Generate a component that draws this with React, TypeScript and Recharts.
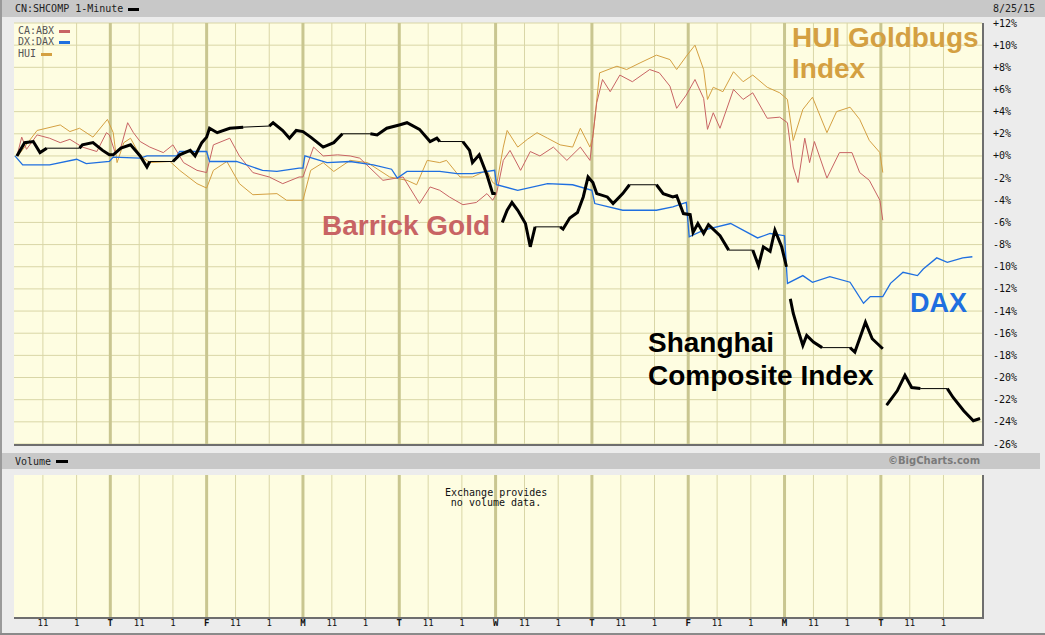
import React from 'react';
import { LineChart, Line, XAxis, YAxis, CartesianGrid } from 'recharts';

// x is measured in trading days from the left edge (8/12 open = 0)
const X_MAX = 10.05;
const yTicks = [12, 10, 8, 6, 4, 2, 0, -2, -4, -6, -8, -10, -12, -14, -16, -18, -20, -22, -24, -26];
const dayLetters = ['T', 'F', 'M', 'T', 'W', 'T', 'F', 'M', 'T'];
const hourOffsets = [0.3, 0.65];
const hourLabels = ['11', '1'];

const abx: [number, number][] = [
  [0.04, 0.3], [0.08, 1.7], [0.13, 0.6], [0.24, 1.9], [0.37, 1.6], [0.48, 1.2], [0.58, 1.5], [0.71, 0.8],
  [0.86, 0.4], [0.96, 2.1], [0.99, 1.9], [1.05, 0.3], [1.11, 0.8], [1.18, 3.0], [1.24, 2.1], [1.31, 1.3],
  [1.41, 0.8], [1.55, 0.3], [1.65, 1.0], [1.76, -0.6], [1.9, -1.3], [2.0, -1.5], [2.07, 1.0], [2.24, 1.6],
  [2.34, 0], [2.48, -1.5], [2.65, -1.9], [2.79, -2.5], [2.96, -1.9], [3.0, -1.9], [3.11, 0.8], [3.21, 0],
  [3.36, 0.1], [3.49, 0], [3.59, -0.2], [3.83, -2.2], [4.04, -1.9], [4.21, -4.3], [4.32, -2.8], [4.42, -3.1],
  [4.52, -3.7], [4.66, -4.4], [4.8, -4.2], [4.91, -3.4], [4.97, -4.0], [5.01, -3.4], [5.08, -0.4], [5.15, 0.5],
  [5.26, -1.3], [5.36, 0.4], [5.46, 0], [5.6, 0.8], [5.74, -0.4], [5.88, 0.8], [5.98, -0.4], [6.05, 4.8],
  [6.11, 6.9], [6.19, 5.8], [6.29, 7.3], [6.42, 6.7], [6.6, 7.8], [6.7, 7.5], [6.81, 6.3], [6.88, 4.3],
  [6.98, 5.5], [7.07, 6.9], [7.16, 5.2], [7.2, 2.4], [7.26, 3.9], [7.33, 2.5], [7.47, 6.0], [7.57, 5.1],
  [7.67, 5.7], [7.82, 3.4], [7.95, 3.5], [8.03, 3.0], [8.09, -1.0], [8.14, -2.4], [8.21, 1.6], [8.26, -0.6],
  [8.31, 1.3], [8.44, -2.0], [8.57, 0.3], [8.7, 0.3], [8.78, -1.5], [8.88, -2.2], [8.99, -4.0], [9.02, -5.8],
];

const dax: [number, number][] = [
  [0.01, 0], [0.09, -0.8], [0.37, -0.8], [0.65, -0.3], [0.75, -0.7], [0.99, -0.5], [1.03, -0.1], [1.31, -0.2],
  [1.38, 0], [1.69, 0], [1.72, 0.4], [1.96, 0.4], [2.0, 0.4], [2.03, -0.5], [2.31, -0.5], [2.58, -1.3],
  [2.73, -1.4], [2.96, -1.1], [3.0, -1.1], [3.02, 0], [3.25, -0.6], [3.49, -0.5], [3.73, -0.8], [3.92, -1.2],
  [3.98, -2.0], [4.08, -1.4], [4.42, -1.4], [4.6, -1.6], [4.76, -1.6], [4.99, -1.3], [5.01, -2.6], [5.23, -3.1],
  [5.54, -2.5], [5.8, -2.6], [6.0, -3.1], [6.03, -4.3], [6.32, -4.9], [6.67, -4.9], [6.84, -4.6], [6.98, -4.2],
  [7.01, -7.3], [7.16, -6.7], [7.44, -6.1], [7.72, -7.4], [7.85, -7.0], [8.0, -7.2], [8.03, -11.5], [8.19, -10.8],
  [8.29, -11.4], [8.47, -10.9], [8.68, -11.4], [8.82, -13.3], [8.89, -12.7], [9.02, -12.7], [9.1, -11.5], [9.23, -10.5],
  [9.38, -10.8], [9.44, -10.2], [9.58, -9.2], [9.69, -9.6], [9.85, -9.2], [9.95, -9.1],
];

const hui: [number, number][] = [
  [0.04, 0], [0.24, 2.3], [0.48, 2.8], [0.58, 2.2], [0.68, 2.5], [0.82, 1.7], [0.97, 3.3], [1.03, 2.1],
  [1.07, -0.6], [1.14, 1.2], [1.21, 1.6], [1.31, 0], [1.41, -0.6], [1.62, -0.5], [1.72, -1.3], [1.9, -2.5],
  [2.0, -2.9], [2.07, -1.3], [2.21, -0.5], [2.34, -2.5], [2.48, -3.5], [2.73, -3.4], [2.83, -4.0], [3.0, -4.0],
  [3.08, -1.3], [3.21, -0.6], [3.32, -1.4], [3.49, -0.4], [3.67, -0.6], [3.9, -1.9], [4.08, -2.2], [4.18, -2.6],
  [4.29, -0.4], [4.42, -0.6], [4.49, -0.4], [4.63, -1.9], [4.76, -1.9], [4.91, -1.3], [4.97, -2.4], [5.01, -2.6],
  [5.08, 0.8], [5.12, 2.3], [5.23, 0.8], [5.33, 1.5], [5.43, 2.1], [5.54, 1.6], [5.67, 1.0], [5.8, 0.8],
  [5.88, 2.5], [5.98, 0.8], [6.01, 1.7], [6.08, 7.5], [6.26, 8.1], [6.36, 7.8], [6.5, 8.4], [6.67, 9.1],
  [6.81, 8.7], [6.88, 7.8], [6.98, 9.0], [7.07, 10.0], [7.16, 7.8], [7.2, 5.1], [7.26, 6.2], [7.36, 5.8],
  [7.47, 7.6], [7.57, 6.7], [7.67, 7.3], [7.82, 6.2], [7.95, 5.7], [8.03, 5.1], [8.09, 1.4], [8.19, 4.2],
  [8.29, 5.3], [8.44, 2.1], [8.54, 4.0], [8.68, 4.4], [8.78, 3.3], [8.88, 1.4], [8.99, 0.3], [9.02, -1.5],
];

// null = no line drawn across (opening gaps)
const shcomp: [number, number | null][] = [
  [0.03, 0], [0.11, 1.2], [0.2, 1.3], [0.27, 0.3], [0.34, 0.7], [0.68, 0.7], [0.71, 1.0], [0.82, 1.2],
  [0.92, 0.5], [0.99, 0.1], [1.03, 0.1], [1.11, 0.7], [1.21, 1.0], [1.31, 0], [1.38, -1.0], [1.41, -0.5],
  [1.65, -0.5], [1.72, 0.1], [1.83, 0.5], [1.88, 0], [1.95, 1.2], [2.0, 1.7], [2.03, 2.5], [2.11, 2.1],
  [2.24, 2.5], [2.38, 2.6], [2.65, 2.7], [2.69, 3.0], [2.79, 2.3], [2.86, 1.6], [2.93, 2.3], [3.0, 2.2],
  [3.08, 1.7], [3.21, 0.8], [3.32, 1.2], [3.41, 2.0], [3.7, 2.0], [3.77, 1.9], [3.87, 2.5], [4.0, 2.8],
  [4.08, 3.0], [4.21, 2.4], [4.32, 1.3], [4.39, 1.6], [4.42, 1.3], [4.66, 1.3], [4.73, 0.5], [4.76, -0.6],
  [4.83, 0.1], [4.91, -1.7], [4.97, -3.4], [5.0, -3.4], [5.03, null], [5.07, -6.0], [5.12, -4.9], [5.17, -4.2],
  [5.23, -4.9], [5.31, -6.1], [5.36, -8.2], [5.41, -6.4], [5.67, -6.4], [5.7, -6.6], [5.77, -5.6], [5.85, -5.1],
  [5.91, -3.7], [5.96, -1.9], [6.01, -2.4], [6.05, -3.4], [6.16, -3.7], [6.22, -4.3], [6.32, -3.4], [6.39, -2.6],
  [6.67, -2.6], [6.74, -3.4], [6.84, -3.7], [6.88, -3.6], [6.95, -5.2], [7.02, -5.3], [7.05, -6.9], [7.1, -6.1],
  [7.16, -7.0], [7.21, -6.2], [7.33, -7.2], [7.42, -8.5], [7.67, -8.5], [7.73, -9.9], [7.78, -8.2], [7.85, -8.6],
  [7.9, -6.7], [7.97, -8.2], [8.02, -10.0], [8.04, null], [8.06, -12.9], [8.09, -14.2], [8.14, -15.7], [8.19, -17.1],
  [8.23, -16.2], [8.3, -16.8], [8.39, -17.3], [8.68, -17.3], [8.73, -17.7], [8.84, -15.0], [8.91, -16.5], [9.02, -17.4],
  [9.04, null], [9.06, -22.5], [9.17, -21.2], [9.25, -19.8], [9.32, -20.9], [9.41, -21.0], [9.69, -21.0], [9.75, -21.8],
  [9.86, -23.0], [9.96, -23.9], [10.03, -23.7],
];
// lunch-break stretches are drawn as a thin flat line
const shcompLunchStarts = [0.34, 1.41, 2.38, 3.41, 4.42, 5.41, 6.39, 7.42, 8.39, 9.41];

const toPoints = (arr: [number, number | null][]) => arr.map(([t, v]) => ({ t, v }));
const abxData = toPoints(abx);
const daxData = toPoints(dax);
const huiData = toPoints(hui);
const shThin = toPoints(shcomp);
const shThick = shcomp.flatMap(([t, v]) =>
  shcompLunchStarts.includes(t) ? [{ t, v }, { t: t + 0.01, v: null }] : [{ t, v }]
);

const dayLines = dayLetters.map((_, i) => i + 1);
const hourLines = Array.from({ length: 10 }, (_, d) => hourOffsets.map((o) => +(d + o).toFixed(2))).flat();
const xTicks = [...hourLines, ...dayLines].sort((a, b) => a - b);

const MONO = '"DejaVu Sans Mono", monospace';
const SANS = '"Liberation Sans", Arial, sans-serif';
const CREAM = '#fefde1';
const GRID = '#d9d6a6';
const DAYLINE = '#c9c690';

const fmtPct = (v: number) => (v >= 0 ? '+' : '') + v + '%';

const XTick = (props: any) => {
  const { x, y, payload } = props;
  const t = payload.value as number;
  const isDay = Number.isInteger(t);
  const frac = t - Math.floor(t);
  const label = isDay ? dayLetters[t - 1] : frac < 0.5 ? hourLabels[0] : hourLabels[1];
  return (
    <text x={x} y={y} dy={9} textAnchor="middle" fontSize={9} fontFamily={MONO}
      fontWeight={isDay ? 'bold' : 'normal'} fill="#111">
      {label}
    </text>
  );
};

const vGrid = () => [
  <CartesianGrid key="hours" horizontal={false} verticalValues={hourLines} stroke={GRID} strokeWidth={1} />,
  <CartesianGrid key="days" horizontal={false} verticalValues={dayLines} stroke={DAYLINE} strokeWidth={3} />,
];

const abs = (left: number, top: number, extra: React.CSSProperties = {}): React.CSSProperties => ({
  position: 'absolute', left, top, ...extra,
});

const bigText = (color: string, size = 28, lh = 31): React.CSSProperties => ({
  fontFamily: SANS, fontWeight: 'bold', fontSize: size, lineHeight: lh + 'px', color, whiteSpace: 'nowrap',
});

export default function App() {
  return (
    <div style={{ position: 'absolute', left: 0, top: 0, width: 1045, height: 635, background: '#ececec', overflow: 'hidden', fontFamily: MONO }}>
      <div style={abs(0, 0, { width: 2, height: 635, background: '#9a9a9a' })} />
      <div style={abs(0, 633, { width: 1045, height: 2, background: '#8a8a8a' })} />
      <div style={abs(2, 0, { width: 1043, height: 17, background: '#c8c8c8' })} />
      <div style={abs(15, 3, { fontSize: 10, lineHeight: '12px', color: '#222', whiteSpace: 'pre' })}>CN:SHCOMP 1-Minute</div>
      <div style={abs(128, 8, { width: 11, height: 3, background: '#000' })} />
      <div style={abs(993, 3, { fontSize: 10, lineHeight: '12px', color: '#222' })}>8/25/15</div>

      <div style={abs(14, 23, { width: 968, height: 421, background: CREAM })} />
      <div style={abs(2, 453, { width: 1038, height: 16, background: '#c8c8c8' })} />
      <div style={abs(15, 456, { fontSize: 10, lineHeight: '12px', color: '#222' })}>Volume</div>
      <div style={abs(56, 460, { width: 12, height: 3, background: '#000' })} />
      <div style={abs(888, 455, { fontSize: 10, lineHeight: '12px', color: '#7a7a7a', fontWeight: 'bold', fontFamily: '"DejaVu Sans", sans-serif' })}>©BigCharts.com</div>
      <div style={abs(14, 475, { width: 968, height: 142, background: CREAM })} />

      <div style={abs(0, 0)}>
        <LineChart width={1045} height={460} margin={{ top: 23, right: 13, bottom: 16, left: 14 }}>
          <XAxis dataKey="t" type="number" domain={[0, X_MAX]} ticks={hourLines} hide allowDataOverflow />
          <YAxis orientation="right" type="number" domain={[-26, 12]} ticks={yTicks} interval={0}
            tickFormatter={fmtPct} width={50} axisLine={false} tickLine={false} tickSize={0} tickMargin={11}
            tick={{ fontSize: 10, fill: '#111', fontFamily: MONO }} allowDataOverflow />
          <CartesianGrid vertical={false} stroke={GRID} />
          {vGrid()}
          <Line data={huiData} dataKey="v" type="linear" stroke="#d4a042" strokeWidth={1} dot={false} isAnimationActive={false} />
          <Line data={abxData} dataKey="v" type="linear" stroke="#c86464" strokeWidth={1} dot={false} isAnimationActive={false} />
          <Line data={daxData} dataKey="v" type="linear" stroke="#1f6fe0" strokeWidth={1.3} dot={false} isAnimationActive={false} />
          <Line data={shThin} dataKey="v" type="linear" stroke="#000" strokeWidth={1} dot={false} isAnimationActive={false} />
          <Line data={shThick} dataKey="v" type="linear" stroke="#000" strokeWidth={3} dot={false} isAnimationActive={false} />
        </LineChart>
      </div>

      <div style={abs(0, 470)}>
        <LineChart width={1045} height={165} margin={{ top: 5, right: 63, bottom: 0, left: 14 }}>
          <XAxis dataKey="t" type="number" domain={[0, X_MAX]} ticks={xTicks} interval={0} height={18}
            axisLine={false} tickLine={false} tickSize={0} tickMargin={0} tick={<XTick />} allowDataOverflow />
          <YAxis type="number" domain={[0, 1]} hide />
          {vGrid()}
        </LineChart>
      </div>

      {/* panel shadows */}
      <div style={abs(14, 444, { width: 970, height: 2, background: '#6e6e6e' })} />
      <div style={abs(982, 23, { width: 2, height: 423, background: '#6e6e6e' })} />
      <div style={abs(14, 617, { width: 970, height: 2, background: '#6e6e6e' })} />
      <div style={abs(982, 475, { width: 2, height: 144, background: '#6e6e6e' })} />

      {/* legend */}
      <div style={abs(18, 25, { fontSize: 10, lineHeight: '12px', color: '#555' })}>CA:ABX</div>
      <div style={abs(59, 30, { width: 11, height: 3, background: '#c86464' })} />
      <div style={abs(18, 36, { fontSize: 10, lineHeight: '12px', color: '#555' })}>DX:DAX</div>
      <div style={abs(59, 41, { width: 11, height: 3, background: '#1f6fe0' })} />
      <div style={abs(18, 48, { fontSize: 10, lineHeight: '12px', color: '#555' })}>HUI</div>
      <div style={abs(41, 53, { width: 11, height: 3, background: '#d4a042' })} />

      <div style={abs(445, 488, { fontSize: 10, lineHeight: '10px', color: '#111', textAlign: 'center', width: 102, whiteSpace: 'pre' })}>
        {'Exchange provides\nno volume data.'}
      </div>

      {/* annotations */}
      <div style={abs(792, 22, bigText('#d4a042'))}>HUI Goldbugs<br />Index</div>
      <div style={abs(322, 210, bigText('#c86464'))}>Barrick Gold</div>
      <div style={abs(910, 288, bigText('#1f6fe0', 27))}>DAX</div>
      <div style={abs(648, 326, bigText('#000', 28, 33))}>Shanghai<br />Composite Index</div>
    </div>
  );
}
